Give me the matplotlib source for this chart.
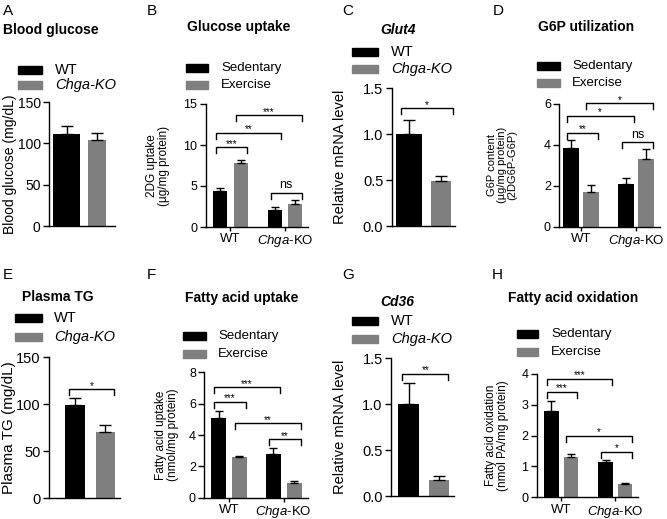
import numpy as np
import matplotlib
matplotlib.use('Agg')
import matplotlib.pyplot as plt
from matplotlib.patches import Rectangle

plt.rcParams['font.family'] = ['Liberation Sans', 'DejaVu Sans']
plt.rcParams['mathtext.fontset'] = 'custom'
plt.rcParams['mathtext.rm'] = 'Liberation Sans'
plt.rcParams['mathtext.it'] = 'Liberation Sans:italic'

W, H = 667, 519
BLACK = '#000000'
GREY = '#7f7f7f'

# ---- data ----
# two-group panels: [WT, Chga-KO]
glucose_means = [111, 104]
glucose_err = [9.5, 8.5]
glut4_means = [1.0, 0.49]
glut4_err = [0.16, 0.06]
tg_means = [99, 71]
tg_err = [8, 6.5]
cd36_means = [1.0, 0.17]
cd36_err = [0.23, 0.05]

# four-bar panels: [WT sed, WT ex, KO sed, KO ex]
uptake_means = [4.35, 7.85, 2.1, 2.75]
uptake_err = [0.35, 0.3, 0.4, 0.5]
g6p_means = [3.87, 1.68, 2.07, 3.31]
g6p_err = [0.37, 0.36, 0.33, 0.49]
fa_uptake_means = [5.1, 2.57, 2.77, 0.91]
fa_uptake_err = [0.43, 0.09, 0.38, 0.15]
fao_means = [2.81, 1.32, 1.135, 0.42]
fao_err = [0.33, 0.07, 0.09, 0.06]

# significance brackets: (bar i, bar j, y, label)
glucose_sig = []
glut4_sig = [(0, 1, 1.28, '*')]
tg_sig = [(0, 1, 116, '*')]
cd36_sig = [(0, 1, 1.33, '**')]
uptake_sig = [(0, 1, 9.7, '***'), (0, 2, 11.5, '**'), (1, 3, 13.6, '***'), (2, 3, 4.2, 'ns')]
g6p_sig = [(0, 1, 4.6, '**'), (0, 2, 5.42, '*'), (1, 3, 6.03, '*'), (2, 3, 4.13, 'ns')]
fa_uptake_sig = [(0, 2, 7.04, '***'), (0, 1, 6.13, '***'), (1, 3, 4.74, '**'), (2, 3, 3.72, '**')]
fao_sig = [(0, 2, 3.84, '***'), (0, 1, 3.43, '***'), (1, 3, 1.99, '*'), (2, 3, 1.48, '*')]

group_labels = ['WT', r'$\it{Chga}$-KO']
two_legend = ['WT', 'Chga-KO']
four_legend = ['Sedentary', 'Exercise']

fig = plt.figure(figsize=(W / 100, H / 100), dpi=100)


def fx(x):
    return x / W


def fy(y):
    return 1 - y / H


def panel(box, centers, bar_px, means, err, sig, ymax, yticks, fmt, tick_size, four):
    left, right, top, bottom = box
    ax = fig.add_axes([fx(left), fy(bottom), (right - left) / W, (bottom - top) / H])
    c0, c1 = centers
    s = c1 - c0
    ax.set_xlim(-(c0 - left) / s, 1 + (right - c1) / s)
    ax.set_ylim(0, ymax)
    if four:
        d = bar_px[1] / s
        pos = np.array([-d, d, 1 - d, 1 + d])
        cols = [BLACK, GREY, BLACK, GREY]
        w = bar_px[0] / s
    else:
        pos = np.array([0.0, 1.0])
        cols = [BLACK, GREY]
        w = np.array(bar_px) / s
    ax.bar(pos, means, width=w, color=cols, zorder=2)
    ax.errorbar(pos, means, yerr=[np.zeros(len(err)), err], fmt='none',
                ecolor=BLACK, elinewidth=1, capsize=3 if four else 4.5,
                capthick=1, zorder=3)
    ww = w if four else np.max(w)
    leg = 6 / ((bottom - top) / ymax)
    for i, j, y, lab in sig:
        x1 = pos[i] - 0.3 * ww
        x2 = pos[j] + 0.45 * ww
        ax.plot([x1, x1, x2, x2], [y - leg, y, y, y - leg], color=BLACK, lw=1,
                clip_on=False, zorder=4)
        fs = 9 if lab == 'ns' else 7
        ax.annotate(lab, xy=((x1 + x2) / 2, y), xytext=(0, 1 if lab == 'ns' else -1),
                    textcoords='offset points', ha='center', va='bottom',
                    fontsize=fs, annotation_clip=False)
    for sp in ['top', 'right']:
        ax.spines[sp].set_visible(False)
    for sp in ['left', 'bottom']:
        ax.spines[sp].set_linewidth(1)
    ax.set_yticks(yticks)
    ax.set_yticklabels([fmt % t for t in yticks])
    ax.tick_params(axis='y', labelsize=tick_size, length=4, width=1, pad=2)
    if four:
        ax.set_xticks([0, 1])
        ax.set_xticklabels(group_labels, fontsize=9.5)
        ax.tick_params(axis='x', length=3, width=1, pad=1.5)
    else:
        ax.set_xticks([])
    return ax


def ylabel(ax, box, xc, text, size):
    left, right, top, bottom = box
    ax.set_ylabel(text, fontsize=size, ha='center', va='center', linespacing=1.0)
    ax.yaxis.set_label_coords((xc - left) / (right - left), 0.5)


def legend(x0, x1, ys, xt, labels, size, italic_second):
    for k, (y, lab, col) in enumerate(zip(ys, labels, [BLACK, GREY])):
        fig.add_artist(Rectangle((fx(x0), fy(y + 4)), (x1 - x0) / W, 8 / H,
                                 transform=fig.transFigure, color=col))
        style = 'italic' if (k == 1 and italic_second) else 'normal'
        fig.text(fx(xt), fy(y), lab, fontsize=size, va='center', ha='left', style=style)


def title(x, y, text, italic=False):
    fig.text(fx(x), fy(y), text, fontsize=10, fontweight='bold', va='center', ha='left',
             style='italic' if italic else 'normal')


def letter(x, y, text):
    fig.text(fx(x), fy(y), text, fontsize=11, va='center', ha='left')


# ---- A: blood glucose ----
boxA = (49, 115, 102, 226)
axA = panel(boxA, (66.5, 97), [27, 18], glucose_means, glucose_err, glucose_sig,
            150, [0, 50, 100, 150], '%d', 10, False)
ylabel(axA, boxA, 9.5, 'Blood glucose (mg/dL)', 10)
legend(18, 42, [69.5, 84.7], 55, two_legend, 10.5, True)
title(3, 30, 'Blood glucose')
letter(3, 11, 'A')

# ---- B: glucose uptake ----
boxB = (205.7, 308, 104, 227)
axB = panel(boxB, (230.25, 285), [14, 10.25], uptake_means, uptake_err, uptake_sig,
            15, [0, 5, 10, 15], '%d', 9, True)
ylabel(axB, boxB, 158, '2DG uptake\n(µg/mg protein)', 8.5)
legend(186, 208, [68.3, 85], 221, four_legend, 9.5, False)
title(187, 27, 'Glucose uptake')
letter(147, 11, 'B')

# ---- C: Glut4 ----
boxC = (391.7, 455, 88.3, 226)
axC = panel(boxC, (409, 441), [26, 20], glut4_means, glut4_err, glut4_sig,
            1.5, [0, 0.5, 1.0, 1.5], '%.1f', 10.5, False)
ylabel(axC, boxC, 340, 'Relative mRNA level', 10.5)
legend(352, 378, [51.7, 69], 391, two_legend, 10.5, True)
title(380, 30, 'Glut4', italic=True)
letter(342, 11, 'C')

# ---- D: G6P utilization ----
boxD = (559.3, 660, 104, 226.7)
axD = panel(boxD, (581.2, 636.3), [16, 9.85], g6p_means, g6p_err, g6p_sig,
            6, [0, 2, 4, 6], '%d', 9, True)
ylabel(axD, boxD, 502, 'G6P content\n(µg/mg protein)\n(2DG6P-G6P)', 8)
legend(537, 560, [65.7, 83.3], 572, four_legend, 9.5, False)
title(538, 27, 'G6P utilization')
letter(493, 11, 'D')

# ---- E: plasma TG ----
boxE = (49, 120, 357.3, 498.3)
axE = panel(boxE, (75, 105.3), [20, 19.3], tg_means, tg_err, tg_sig,
            150, [0, 50, 100, 150], '%d', 10.5, False)
ylabel(axE, boxE, 9, 'Plasma TG (mg/dL)', 11)
legend(15, 42, [318.3, 337], 54, two_legend, 10.5, True)
title(22, 297, 'Plasma TG')
letter(3, 275, 'E')

# ---- F: fatty acid uptake ----
boxF = (204.3, 307.7, 372.3, 497.7)
axF = panel(boxF, (228.85, 283.7), [15, 10.35], fa_uptake_means, fa_uptake_err, fa_uptake_sig,
            8, [0, 2, 4, 6, 8], '%d', 9, True)
ylabel(axF, boxF, 167, 'Fatty acid uptake\n(nmol/mg protein)', 8.5)
legend(183, 206, [336, 354], 218, four_legend, 9.5, False)
title(185, 298, 'Fatty acid uptake')
letter(147, 275, 'F')

# ---- G: Cd36 ----
boxG = (391, 454, 358.3, 496)
axG = panel(boxG, (408.8, 439), [21, 20], cd36_means, cd36_err, cd36_sig,
            1.5, [0, 0.5, 1.0, 1.5], '%.1f', 10.5, False)
ylabel(axG, boxG, 340, 'Relative mRNA level', 10.5)
legend(352, 378, [321, 339], 391, two_legend, 10.5, True)
title(380, 302, 'Cd36', italic=True)
letter(342, 275, 'G')

# ---- H: fatty acid oxidation ----
boxH = (536.7, 638, 374, 497.3)
axH = panel(boxH, (561.05, 615.4), [14.5, 9.75], fao_means, fao_err, fao_sig,
            4, [0, 1, 2, 3, 4], '%d', 9, True)
ylabel(axH, boxH, 497, 'Fatty acid oxidation\n(nmol PA/mg protein)', 8.5)
legend(517, 538, [334, 352], 551, four_legend, 9.5, False)
title(508, 298, 'Fatty acid oxidation')
letter(492, 275, 'H')

fig.savefig('out.png', dpi=100)
